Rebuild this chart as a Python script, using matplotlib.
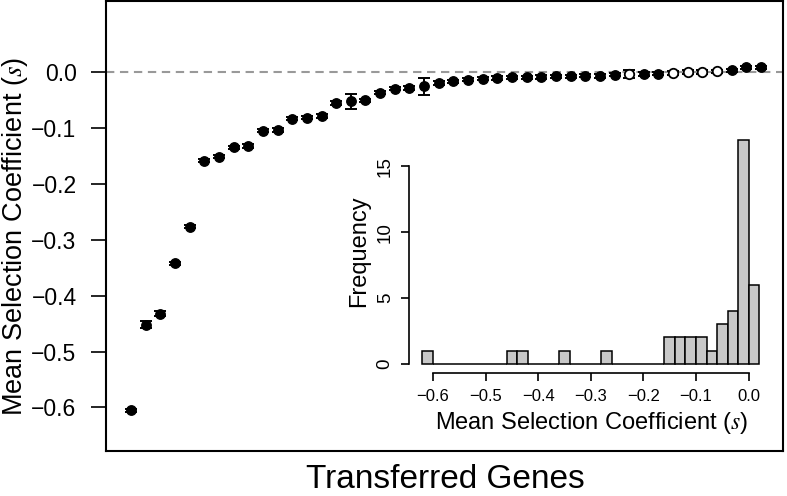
import numpy as np
import matplotlib
matplotlib.use("Agg")
import matplotlib.pyplot as plt

plt.rcParams['font.family'] = ['Liberation Sans', 'DejaVu Sans']
plt.rcParams['mathtext.fontset'] = 'stix'

# ---- data ----
gene_index = list(range(1, 45))
mean_s = [-0.605, -0.452, -0.432, -0.342, -0.276, -0.158, -0.151, -0.134, -0.132, -0.104,
          -0.103, -0.083, -0.081, -0.078, -0.055, -0.052, -0.050, -0.036, -0.029, -0.028,
          -0.025, -0.019, -0.016, -0.013, -0.011, -0.010, -0.009, -0.009, -0.008, -0.007,
          -0.007, -0.006, -0.006, -0.004, -0.003, -0.003, -0.002, -0.001, 0.001, 0.001,
          0.002, 0.004, 0.009, 0.009]
err_s = [0.003, 0.006, 0.004, 0.003, 0.003, 0.003, 0.003, 0.003, 0.003, 0.003,
         0.003, 0.003, 0.003, 0.003, 0.003, 0.014, 0.003, 0.003, 0.003, 0.003,
         0.015, 0.003, 0.003, 0.003, 0.003, 0.004, 0.003, 0.003, 0.003, 0.003,
         0.003, 0.003, 0.004, 0.003, 0.007, 0.003, 0.003, 0.003, 0.003, 0.003,
         0.003, 0.003, 0.003, 0.003]
open_points = [34, 37, 38, 39, 40]   # 0-based indices drawn as open circles
main_yticks = [0.0, -0.1, -0.2, -0.3, -0.4, -0.5, -0.6]
hist_bins = np.linspace(-0.62, 0.02, 33)
inset_xticks = [-0.6, -0.5, -0.4, -0.3, -0.2, -0.1, 0.0]
inset_yticks = [0, 5, 10, 15]


def fmt(v):
    s = '%.1f' % abs(v)
    return ('\u2212' + s) if v < 0 else s


W, H = 787, 496
fig = plt.figure(figsize=(W / 100, H / 100), dpi=100)

# ---- main axes ----
L, R, T, B = 105.7, 783, 1, 451
ax = fig.add_axes([L / W, 1 - B / H, (R - L) / W, (B - T) / H])
ax.axhline(0, color='#999999', lw=1.5, ls=(0, (4, 2.7)), zorder=1)

x = np.array(gene_index, dtype=float)
y = np.array(mean_s)
e = np.array(err_s)
ax.errorbar(x, y, yerr=e, fmt='none', ecolor='black', elinewidth=1.4,
            capsize=4.3, capthick=1.4, zorder=2)
filled = [i for i in range(len(x)) if i not in open_points]
ax.plot(x[filled], y[filled], 'o', ms=6.8, mfc='black', mec='black', zorder=3)
ax.plot(x[open_points], y[open_points], 'o', ms=6.8, mfc='white', mec='black',
        mew=1.3, zorder=3)

ax.set_xlim(-0.73, 45.5)
ax.set_ylim(-0.678, 0.128)
ax.set_xticks([])
ax.set_yticks(main_yticks)
ax.set_yticklabels([fmt(v) for v in main_yticks])
ax.tick_params(axis='y', length=11, width=1.2, pad=10, labelsize=16.5)
for sp in ax.spines.values():
    sp.set_linewidth(1.5)

fig.text(21.7 / W, 1 - 236 / H, 'Mean Selection Coefficient ($s$)', rotation=90,
         rotation_mode='anchor', ha='center', va='baseline', fontsize=19.5)
fig.text(445 / W, 7.5 / H, 'Transferred Genes', ha='center', va='baseline', fontsize=24)

# ---- inset histogram ----
iL, iR, iT, iB = 409, 772.6, 131, 372.7
ax2 = fig.add_axes([iL / W, 1 - iB / H, (iR - iL) / W, (iB - iT) / H])
ax2.patch.set_alpha(0)
ax2.hist(mean_s, bins=hist_bins, color='#c8c8c8', edgecolor='black', linewidth=1.1)
ax2.set_xlim(-0.6456, 0.0456)
ax2.set_ylim(-0.68, 17.68)
ax2.spines['top'].set_visible(False)
ax2.spines['right'].set_visible(False)
ax2.spines['left'].set_bounds(0, 15)
ax2.spines['bottom'].set_bounds(-0.6, 0.0)
for sp in ('left', 'bottom'):
    ax2.spines[sp].set_linewidth(1.2)
ax2.set_xticks(inset_xticks)
ax2.set_xticklabels([fmt(v) for v in inset_xticks])
ax2.set_yticks(inset_yticks)
ax2.set_yticklabels([str(v) for v in inset_yticks], rotation=90, va='center')
ax2.tick_params(axis='x', length=6, width=1.2, pad=6, labelsize=12)
ax2.tick_params(axis='y', length=6, width=1.2, pad=5, labelsize=13.5)

fig.text(365 / W, 1 - 251 / H, 'Frequency', rotation=90, rotation_mode='anchor',
         ha='center', va='baseline', fontsize=17)
fig.text(592 / W, 1 - 429 / H, 'Mean Selection Coefficient ($s$)', ha='center',
         va='baseline', fontsize=17)

fig.savefig('out.png', dpi=100)
